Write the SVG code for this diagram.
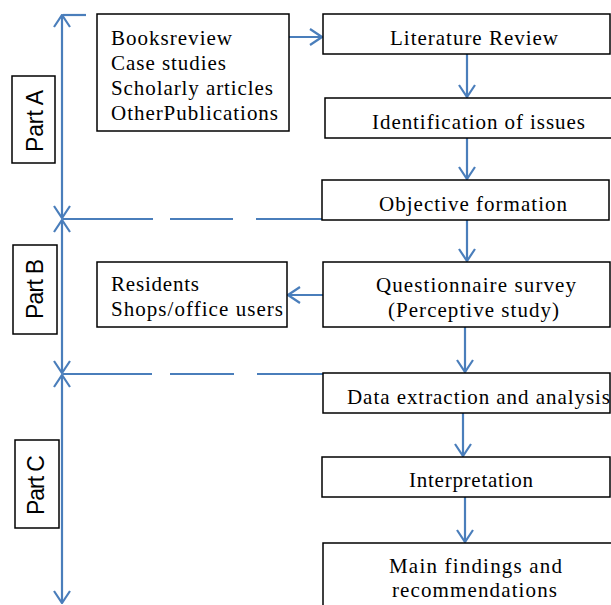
<svg xmlns="http://www.w3.org/2000/svg" width="611" height="605" viewBox="0 0 611 605">
<style>
.box{fill:#fff;stroke:#000;stroke-width:1.5}
.t{font-family:"Liberation Serif","Times New Roman",serif;font-size:21px;fill:#000}
.c{text-anchor:middle}
.p{font-family:"Liberation Sans",Arial,sans-serif;font-size:23px;fill:#000;text-anchor:middle}
.ln{stroke:#4a7ebb;stroke-width:2.2;fill:none}
.da{stroke:#4a7ebb;stroke-width:2.2;fill:none}
</style>
<defs>
<marker id="ah" markerUnits="userSpaceOnUse" viewBox="0 0 14 18" refX="13" refY="9" markerWidth="14" markerHeight="18" orient="auto-start-reverse">
<path d="M1,1 L13,9 L1,17" fill="none" stroke="#4a7ebb" stroke-width="2.2"/>
</marker>
</defs>
<g id="connectors">
<line class="ln" x1="62" y1="15" x2="62" y2="218" marker-start="url(#ah)" marker-end="url(#ah)"/>
<line class="ln" x1="62" y1="220" x2="62" y2="373" marker-start="url(#ah)" marker-end="url(#ah)"/>
<line class="ln" x1="62" y1="375" x2="62" y2="603" marker-start="url(#ah)" marker-end="url(#ah)"/>
<line class="da" x1="63" y1="15" x2="86" y2="15"/>
<path class="da" d="M63,219 H153 M170,219 H233 M256,219 H322"/>
<path class="da" d="M63,374 H152 M170,374 H234 M257,374 H323"/>
<line class="ln" x1="289" y1="37" x2="322" y2="37" marker-end="url(#ah)"/>
<line class="ln" x1="467" y1="54" x2="467" y2="97" marker-end="url(#ah)"/>
<line class="ln" x1="467" y1="138" x2="467" y2="179" marker-end="url(#ah)"/>
<line class="ln" x1="467" y1="220" x2="467" y2="261" marker-end="url(#ah)"/>
<line class="ln" x1="323" y1="295" x2="288" y2="295" marker-end="url(#ah)"/>
<line class="ln" x1="465" y1="327" x2="465" y2="372" marker-end="url(#ah)"/>
<line class="ln" x1="463" y1="413" x2="463" y2="456" marker-end="url(#ah)"/>
<line class="ln" x1="465" y1="497" x2="465" y2="542" marker-end="url(#ah)"/>
</g>
<g id="partA">
<rect class="box" x="12" y="76" width="43" height="87"/>
<text class="p" transform="translate(43,121) rotate(-90)" textLength="62">Part A</text>
</g>
<g id="partB">
<rect class="box" x="13" y="245" width="44" height="89"/>
<text class="p" transform="translate(43,289) rotate(-90)" textLength="60">Part B</text>
</g>
<g id="partC">
<rect class="box" x="15" y="440" width="44" height="88"/>
<text class="p" transform="translate(44,485) rotate(-90)" textLength="60">Part C</text>
</g>
<g id="sources">
<rect class="box" x="97" y="14" width="192" height="117"/>
<text class="t" x="111" y="45" textLength="121">Booksreview</text>
<text class="t" x="111" y="70" textLength="115">Case studies</text>
<text class="t" x="111" y="95" textLength="162">Scholarly articles</text>
<text class="t" x="111" y="120" textLength="167">OtherPublications</text>
</g>
<g id="literature">
<rect class="box" x="323" y="14" width="287" height="40"/>
<text class="t c" x="474" y="45" textLength="168">Literature Review</text>
</g>
<g id="issues">
<rect class="box" x="325" y="98" width="290" height="40"/>
<text class="t c" x="478.5" y="129" textLength="213">Identification of issues</text>
</g>
<g id="objective">
<rect class="box" x="322" y="180" width="287" height="40"/>
<text class="t c" x="473" y="211" textLength="188">Objective formation</text>
</g>
<g id="questionnaire">
<rect class="box" x="323" y="262" width="287" height="65"/>
<text class="t c" x="476" y="292" textLength="200">Questionnaire survey</text>
<text class="t c" x="473.5" y="317" textLength="171">(Perceptive study)</text>
</g>
<g id="residents">
<rect class="box" x="97" y="262" width="190" height="65"/>
<text class="t" x="111" y="291" textLength="88">Residents</text>
<text class="t" x="111" y="316" textLength="172">Shops/office users</text>
</g>
<g id="data">
<rect class="box" x="323" y="373" width="287" height="40"/>
<text class="t" x="347" y="404" textLength="263">Data extraction and analysis</text>
</g>
<g id="interpretation">
<rect class="box" x="322" y="457" width="288" height="40"/>
<text class="t c" x="471" y="487" textLength="124">Interpretation</text>
</g>
<g id="findings">
<rect class="box" x="323" y="543" width="295" height="70"/>
<text class="t c" x="475.5" y="573" textLength="173">Main findings and</text>
<text class="t c" x="474.5" y="597" textLength="165">recommendations</text>
</g>
</svg>
